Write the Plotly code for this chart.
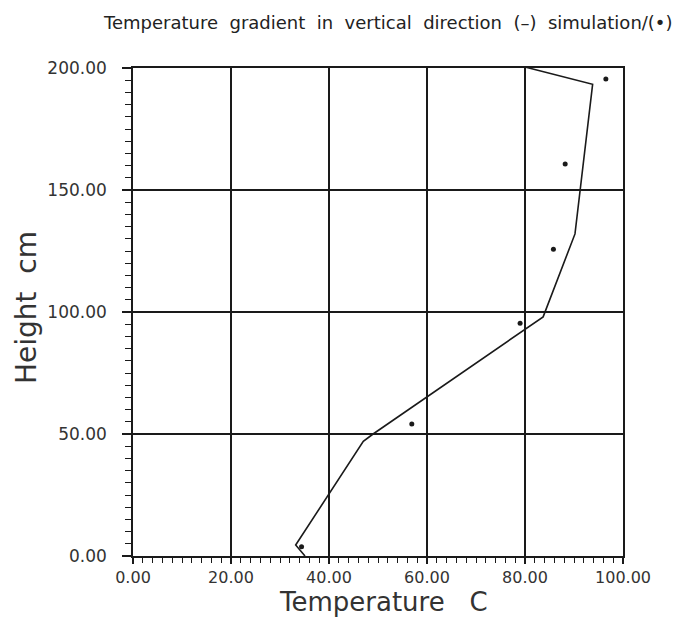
import plotly.graph_objects as go

# Simulation line (temperature C, height cm)
sim_temp = [80.2, 93.8, 90.2, 83.7, 49.0, 47.0, 33.2, 35.1]
sim_height = [200.3, 193.3, 132.0, 98.0, 50.0, 47.0, 4.5, 0.0]

# Measured points
meas_temp = [96.5, 88.2, 85.8, 79.0, 56.9, 34.4]
meas_height = [195.5, 160.7, 125.7, 95.4, 54.1, 3.8]

x_ticks = [0, 20, 40, 60, 80, 100]
y_ticks = [0, 50, 100, 150, 200]

FONT = "DejaVu Sans"
SP = "\u00a0\u00a0"

fig = go.Figure()
fig.add_trace(go.Scatter(x=sim_temp, y=sim_height, mode="lines",
                         line=dict(color="#1a1a1a", width=1.6), showlegend=False))
fig.add_trace(go.Scatter(x=meas_temp, y=meas_height, mode="markers",
                         marker=dict(color="#1a1a1a", size=5), showlegend=False))

title_text = SP.join(["Temperature", "gradient", "in", "vertical", "direction",
                      "(\u2013)", "simulation/(\u2022)"])

fig.update_layout(
    width=693, height=618,
    margin=dict(l=133, r=70, t=68, b=62),
    paper_bgcolor="white", plot_bgcolor="white",
    font=dict(family=FONT, color="#222222"),
    annotations=[
        dict(text=title_text, xref="paper", yref="paper", x=0.52, y=1.0,
             yshift=46, xanchor="center", yanchor="middle", showarrow=False,
             font=dict(size=18, family=FONT, color="#222222")),
        dict(text="Height" + SP + "cm", xref="paper", yref="paper", x=0, xshift=-107,
             y=0.5, yshift=4, textangle=-90, xanchor="center", yanchor="middle",
             showarrow=False, font=dict(size=28, family=FONT, color="#333333")),
        dict(text="Temperature" + "\u00a0\u00a0\u00a0" + "C", xref="paper", yref="paper",
             x=0.5, xshift=5, y=0, yshift=-46, xanchor="center", yanchor="middle",
             showarrow=False, font=dict(size=26, family=FONT, color="#333333")),
    ],
)

fig.update_xaxes(
    range=[0, 100], tickvals=x_ticks, ticktext=[f"{v:.2f}" for v in x_ticks],
    showgrid=True, gridcolor="#1a1a1a", gridwidth=1.5,
    showline=True, linecolor="#1a1a1a", linewidth=1.6, mirror=True,
    ticks="outside", ticklen=6, tickwidth=1.5, tickcolor="#1a1a1a",
    minor=dict(dtick=2, ticks="outside", ticklen=5, tickwidth=1.2, tickcolor="#1a1a1a", showgrid=False),
    tickfont=dict(size=16, family=FONT, color="#333333"),
    ticklabelstandoff=0,
    zeroline=False, fixedrange=True,
)
fig.update_yaxes(
    range=[0, 200], tickvals=y_ticks, ticktext=[f"{v:.2f}" for v in y_ticks],
    showgrid=True, gridcolor="#1a1a1a", gridwidth=1.5,
    showline=True, linecolor="#1a1a1a", linewidth=1.6, mirror=True,
    ticks="outside", ticklen=9, tickwidth=1.5, tickcolor="#1a1a1a",
    minor=dict(dtick=5, ticks="outside", ticklen=6, tickwidth=1.2, tickcolor="#1a1a1a", showgrid=False),
    tickfont=dict(size=17, family=FONT, color="#333333"),
    ticklabelstandoff=12,
    zeroline=False, fixedrange=True,
)

fig.write_html("out.html")
